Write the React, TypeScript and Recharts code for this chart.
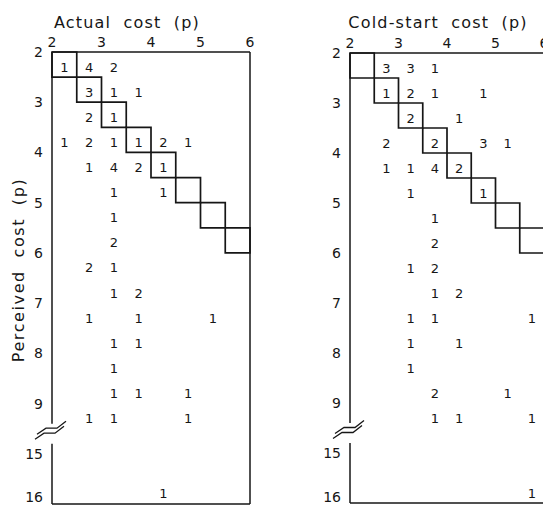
import React from 'react'
import { ScatterChart, Scatter, XAxis, YAxis, ReferenceArea, ReferenceLine, ReferenceDot } from 'recharts'

// [cost column lower bound (p), perceived cost row lower bound (p), count]
type Cell = [number, number, number]

const costTicks = [2, 3, 4, 5, 6]
const perceivedTicks = [2, 3, 4, 5, 6, 7, 8, 9, 15, 16]
const diagonalCells = [2, 2.5, 3, 3.5, 4, 4.5, 5, 5.5]

const actualCells: Cell[] = [
    [2, 2, 1], [2.5, 2, 4], [3, 2, 2],
    [2.5, 2.5, 3], [3, 2.5, 1], [3.5, 2.5, 1],
    [2.5, 3, 2], [3, 3, 1],
    [2, 3.5, 1], [2.5, 3.5, 2], [3, 3.5, 1], [3.5, 3.5, 1], [4, 3.5, 2], [4.5, 3.5, 1],
    [2.5, 4, 1], [3, 4, 4], [3.5, 4, 2], [4, 4, 1],
    [3, 4.5, 1], [4, 4.5, 1],
    [3, 5, 1],
    [3, 5.5, 2],
    [2.5, 6, 2], [3, 6, 1],
    [3, 6.5, 1], [3.5, 6.5, 2],
    [2.5, 7, 1], [3.5, 7, 1], [5, 7, 1],
    [3, 7.5, 1], [3.5, 7.5, 1],
    [3, 8, 1],
    [3, 8.5, 1], [3.5, 8.5, 1], [4.5, 8.5, 1],
    [2.5, 9, 1], [3, 9, 1], [4.5, 9, 1],
    [4, 15.5, 1],
]

const coldStartCells: Cell[] = [
    [2.5, 2, 3], [3, 2, 3], [3.5, 2, 1],
    [2.5, 2.5, 1], [3, 2.5, 2], [3.5, 2.5, 1], [4.5, 2.5, 1],
    [3, 3, 2], [4, 3, 1],
    [2.5, 3.5, 2], [3.5, 3.5, 2], [4.5, 3.5, 3], [5, 3.5, 1],
    [2.5, 4, 1], [3, 4, 1], [3.5, 4, 4], [4, 4, 2],
    [3, 4.5, 1], [4.5, 4.5, 1],
    [3.5, 5, 1],
    [3.5, 5.5, 2],
    [3, 6, 1], [3.5, 6, 2],
    [3.5, 6.5, 1], [4, 6.5, 2],
    [3, 7, 1], [3.5, 7, 1], [5.5, 7, 1],
    [3, 7.5, 1], [4, 7.5, 1],
    [3, 8, 1],
    [3.5, 8.5, 2], [5, 8.5, 1],
    [3.5, 9, 1], [4, 9, 1], [5.5, 9, 1],
    [5.5, 15.5, 1],
]

// perceived-cost axis is broken between 9.5 and 15 (half a unit of gap)
const toPos = (v: number) => (v <= 9.5 ? v : v - 5)
const tickPos = perceivedTicks.map(toPos)

const FONT = 'DejaVu Sans'
const INK = '#161616'

const CountMark = (props: any) => (
    <text x={props.cx} y={props.cy} dy={7} textAnchor="middle" fontSize={13} fontFamily={FONT} fill={INK}>
        {props.payload.n}
    </text>
)

const BreakMark = ({ cx, cy }: any) => (
    <g>
        <polyline points={`${cx - 15},${cy + 3} ${cx - 6},${cy - 3} ${cx + 5},${cy - 3} ${cx + 14},${cy - 10}`} fill="none" stroke={INK} strokeWidth={1.3} />
        <polyline points={`${cx - 17},${cy + 8} ${cx - 8},${cy + 2} ${cx + 3},${cy + 2} ${cx + 12},${cy - 5}`} fill="none" stroke={INK} strokeWidth={1.3} />
    </g>
)

function Panel({ cells, width, right, bottom, top, yWidth }: { cells: Cell[]; width: number; right: number; bottom: number; top: number; yWidth: number }) {
    const data = cells.map(([c, r, n]) => ({ x: c + 0.25, y: toPos(r + 0.25), n }))
    return (
        <ScatterChart width={width} height={505} margin={{ top: 0, right, bottom, left: 0 }}>
            <XAxis
                type="number"
                dataKey="x"
                orientation="top"
                domain={[2, 6]}
                ticks={costTicks}
                height={top}
                axisLine={false}
                tickLine={false}
                tickSize={0}
                tickMargin={5}
                tick={{ fontSize: 14, fill: INK, fontFamily: FONT }}
            />
            <YAxis
                type="number"
                dataKey="y"
                reversed
                domain={[2, 11]}
                ticks={tickPos}
                width={yWidth}
                axisLine={false}
                tickLine={false}
                tickSize={0}
                tickMargin={9}
                tickFormatter={(p: number) => String(perceivedTicks[tickPos.indexOf(p)])}
                tick={{ fontSize: 14, fill: INK, fontFamily: FONT }}
            />
            <ReferenceLine y={2} stroke={INK} strokeWidth={1.5} />
            <ReferenceLine y={11} stroke={INK} strokeWidth={1.5} />
            <ReferenceLine x={6} stroke={INK} strokeWidth={1.5} />
            <ReferenceLine segment={[{ x: 2, y: 2 }, { x: 2, y: 9.4 }]} stroke={INK} strokeWidth={1.5} />
            <ReferenceLine segment={[{ x: 2, y: 9.8 }, { x: 2, y: 11 }]} stroke={INK} strokeWidth={1.5} />
            {diagonalCells.map((d) => (
                <ReferenceArea key={d} x1={d} x2={d + 0.5} y1={d} y2={d + 0.5} fill="none" stroke={INK} strokeWidth={1.7} />
            ))}
            <Scatter data={data} shape={CountMark} isAnimationActive={false} />
            <ReferenceDot x={2} y={9.55} ifOverflow="visible" shape={BreakMark} />
        </ScatterChart>
    )
}

const titleStyle: React.CSSProperties = {
    position: 'absolute',
    width: 220,
    textAlign: 'center',
    fontFamily: FONT,
    fontSize: 16,
    lineHeight: '16px',
    letterSpacing: 1.2,
    wordSpacing: 6,
    color: INK,
    whiteSpace: 'nowrap',
}

export default function App() {
    return (
        <div style={{ position: 'absolute', left: 0, top: 0, width: 543, height: 505, overflow: 'hidden', background: '#fff' }}>
            <div style={{ position: 'absolute', left: 0, top: 0 }}>
                <Panel cells={actualCells} width={270} right={20} bottom={1} top={52} yWidth={52} />
            </div>
            <div style={{ position: 'absolute', left: 270, top: 0 }}>
                <Panel cells={coldStartCells} width={300} right={26} bottom={2} top={53} yWidth={80} />
            </div>
            <div style={{ ...titleStyle, left: 17, top: 15 }}>Actual cost (p)</div>
            <div style={{ ...titleStyle, left: 328, top: 15 }}>Cold-start cost (p)</div>
            <div
                style={{
                    ...titleStyle,
                    left: 19 - 110,
                    top: 270 - 10,
                    height: 20,
                    lineHeight: '20px',
                    letterSpacing: 1.6,
                    transform: 'rotate(-90deg)',
                }}
            >
                Perceived cost (p)
            </div>
        </div>
    )
}
